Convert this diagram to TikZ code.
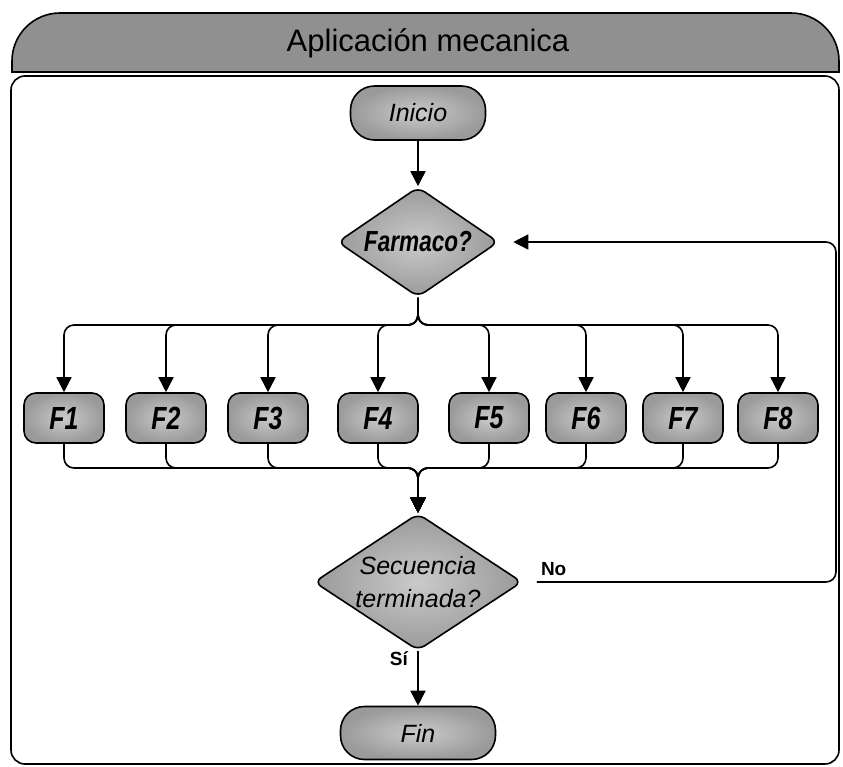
\documentclass[tikz,border=0pt]{standalone}
\usepackage{fontspec}
\setmainfont{Liberation Sans}
\newfontfamily\narrowfont[FakeStretch=0.78]{Liberation Sans}
\usetikzlibrary{positioning,shapes.geometric,arrows.meta}
\definecolor{hdrgray}{HTML}{909090}
\definecolor{boxlight}{HTML}{CACACA}
\definecolor{boxdark}{HTML}{9A9A9A}

\begin{document}
\begin{tikzpicture}[x=1pt,y=-1pt,
		box/.style={draw,line width=1.6pt,rounded corners=12pt,inner sep=0pt,shading=radial,inner color=boxlight,outer color=boxdark},
		term/.style={box,rounded corners=24pt,minimum width=135pt,minimum height=54pt,font=\fontsize{25}{28}\selectfont\itshape},
		fbox/.style={box,minimum width=80pt,minimum height=50pt,font=\narrowfont\fontsize{32}{34}\selectfont\bfseries\itshape},
		choice/.style={box,diamond,rounded corners=8pt,aspect=1.46},
		lbl/.style={inner sep=0pt,font=\fontsize{19}{21}\selectfont\bfseries},
		flow/.style={line width=1.6pt,rounded corners=10pt,-{Triangle[length=15pt,width=15pt]}},
		link/.style={line width=1.6pt,rounded corners=10pt}]
		\useasboundingbox (0,0) rectangle (843,766);
		\draw[line width=1.6pt,rounded corners=14pt,fill=white] (11,76) rectangle (839,764);
		\path[draw,line width=1.6pt,fill=hdrgray] (12,72) [rounded corners=48pt]-- (12,13) -- (839,13) [sharp corners]-- (839,72) -- cycle;
		\node[font=\fontsize{31}{34}\selectfont] (title) at (428,43) {Aplicación mecanica};
		\node[term] (inicio) at (418,113) {Inicio};
		\node[choice,minimum width=161pt,minimum height=110pt,font=\narrowfont\fontsize{29}{31}\selectfont\bfseries\itshape] (farmaco) at (418,242) {Farmaco?};
		\node[fbox] (f1) at (64,418) {F1};
		\node[fbox] (f2) at (166,418) {F2};
		\node[fbox] (f3) at (268,418) {F3};
		\node[fbox] (f4) at (378,418) {F4};
		\node[fbox] (f5) at (489,418) {F5};
		\node[fbox] (f6) at (586,418) {F6};
		\node[fbox] (f7) at (683,418) {F7};
		\node[fbox] (f8) at (778,418) {F8};
		\node[choice,minimum width=208pt,minimum height=137pt,align=center,font=\fontsize{25}{33}\selectfont\itshape] (seq) at (418,582) {Secuencia\\terminada?};
		\node[term,minimum width=155pt,minimum height=53pt] (fin) at (418,733) {Fin};
		\coordinate (split) at (418,325);
		\coordinate (join) at (418,468);
		\coordinate (back) at (836,582);
		\draw[flow] (inicio) -- (farmaco);
		\draw[flow] (farmaco.south) -- (split) -| (f1.north);
		\draw[flow] (farmaco.south) -- (split) -| (f2.north);
		\draw[flow] (farmaco.south) -- (split) -| (f3.north);
		\draw[flow] (farmaco.south) -- (split) -| (f4.north);
		\draw[flow] (farmaco.south) -- (split) -| (f5.north);
		\draw[flow] (farmaco.south) -- (split) -| (f6.north);
		\draw[flow] (farmaco.south) -- (split) -| (f7.north);
		\draw[flow] (farmaco.south) -- (split) -| (f8.north);
		\draw[flow] (f1.south) |- (join) -- (seq.north);
		\draw[flow] (f2.south) |- (join) -- (seq.north);
		\draw[flow] (f3.south) |- (join) -- (seq.north);
		\draw[flow] (f4.south) |- (join) -- (seq.north);
		\draw[flow] (f5.south) |- (join) -- (seq.north);
		\draw[flow] (f6.south) |- (join) -- (seq.north);
		\draw[flow] (f7.south) |- (join) -- (seq.north);
		\draw[flow] (f8.south) |- (join) -- (seq.north);
		\draw[flow] (seq.south) -- (fin.north);
		\draw[flow,shorten <=14pt,shorten >=14pt] (seq.east) -- (back) |- (farmaco.east);
		\node[lbl,above right=6pt and 18pt of seq.east,anchor=south west] (no) {No};
		\node[lbl,below left=0pt and 10pt of seq.south,anchor=north east] (si) {Sí};
\end{tikzpicture}
\end{document}
